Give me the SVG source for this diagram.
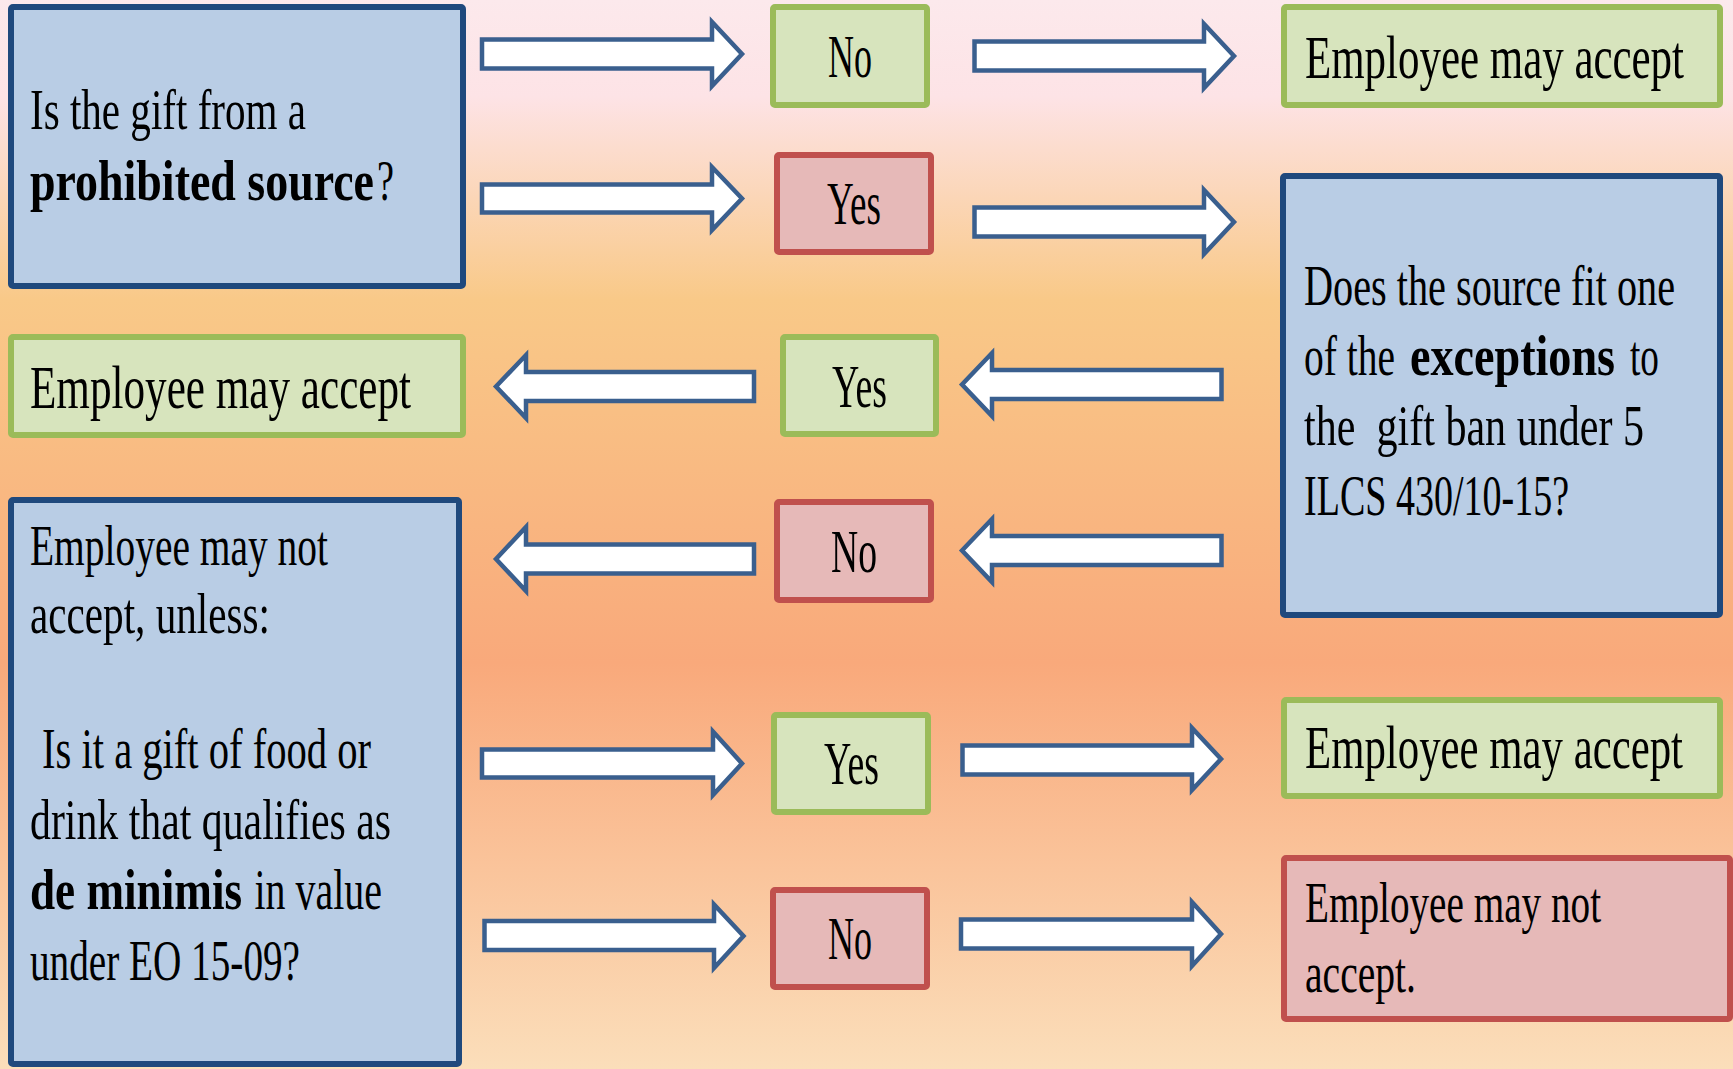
<svg xmlns="http://www.w3.org/2000/svg" width="1733" height="1069" viewBox="0 0 1733 1069">
<defs>
<linearGradient id="bg" x1="0" y1="0" x2="0" y2="1">
<stop offset="0" stop-color="#FCE9EC"/>
<stop offset="0.09" stop-color="#FDE3E6"/>
<stop offset="0.28" stop-color="#F9C988"/>
<stop offset="0.62" stop-color="#F9A97B"/>
<stop offset="1" stop-color="#FBDEBA"/>
</linearGradient>
<style>
.q{fill:#B9CDE5;stroke:#1F497D;stroke-width:6}
.g{fill:#D7E4BD;stroke:#9BBB59;stroke-width:6}
.r{fill:#E6B9B8;stroke:#C0504D;stroke-width:6}
.arr{fill:#FFFFFF;stroke:#3A5F8E;stroke-width:4.5;stroke-linejoin:miter}
text{font-family:"Liberation Serif","Times New Roman",serif;fill:#000000}
.b{font-weight:bold}
</style>
</defs>
<rect x="0" y="0" width="1733" height="1069" fill="url(#bg)"/>

<g id="connectors">
<polygon class="arr" points="482,39.5 712,39.5 712,22 742,54 712,86 712,68.5 482,68.5"/>
<polygon class="arr" points="482,184.5 712,184.5 712,167 742,198.5 712,230 712,212.5 482,212.5"/>
<polygon class="arr" points="974.5,41.5 1204,41.5 1204,24 1234,56 1204,88 1204,70.5 974.5,70.5"/>
<polygon class="arr" points="974.5,207.5 1204,207.5 1204,190 1234,222 1204,254 1204,236.5 974.5,236.5"/>
<polygon class="arr" points="496,386.5 526,355 526,372 754,372 754,401 526,401 526,418"/>
<polygon class="arr" points="962,384.5 992,353 992,370 1221.5,370 1221.5,399 992,399 992,416"/>
<polygon class="arr" points="496,559 526,527 526,544.5 754,544.5 754,573.5 526,573.5 526,591"/>
<polygon class="arr" points="962,550.5 992,519 992,536 1221.5,536 1221.5,565 992,565 992,582"/>
<polygon class="arr" points="482,749.5 713,749.5 713,731.5 742,763.5 713,795 713,777.5 482,777.5"/>
<polygon class="arr" points="484.5,921 714,921 714,904.5 743.5,936 714,968 714,950 484.5,950"/>
<polygon class="arr" points="962.5,745.5 1192,745.5 1192,728 1221,759 1192,790 1192,774.5 962.5,774.5"/>
<polygon class="arr" points="961,919.5 1192,919.5 1192,902 1221,934 1192,966 1192,948.5 961,948.5"/>
</g>

<g id="q1">
<rect class="q" x="11" y="7" width="452" height="279" rx="2"/>
<text transform="translate(30,129) scale(0.7,1)" font-size="57" textLength="394.3" lengthAdjust="spacingAndGlyphs">Is the gift from a</text>
<text class="b" transform="translate(30,200) scale(0.7,1)" font-size="57" textLength="491.4" lengthAdjust="spacingAndGlyphs">prohibited source</text>
<text transform="translate(377,200) scale(0.7,1)" font-size="57" textLength="24.3" lengthAdjust="spacingAndGlyphs">?</text>
</g>

<g id="no1">
<rect class="g" x="773" y="7" width="154" height="98" rx="2"/>
<text transform="translate(828,77) scale(0.7,1)" font-size="62" textLength="62.9" lengthAdjust="spacingAndGlyphs">No</text>
</g>

<g id="yes1">
<rect class="r" x="777" y="155" width="154" height="97" rx="2"/>
<text transform="translate(827,224) scale(0.7,1)" font-size="62" textLength="77.1" lengthAdjust="spacingAndGlyphs">Yes</text>
</g>

<g id="accept1">
<rect class="g" x="1284" y="7" width="436" height="98" rx="2"/>
<text transform="translate(1305,78) scale(0.7,1)" font-size="62" textLength="541.4" lengthAdjust="spacingAndGlyphs">Employee may accept</text>
</g>

<g id="q2">
<rect class="q" x="1283" y="176" width="437" height="439" rx="2"/>
<text transform="translate(1304,305) scale(0.7,1)" font-size="56" textLength="530" lengthAdjust="spacingAndGlyphs">Does the source fit one</text>
<text transform="translate(1304,375) scale(0.7,1)" font-size="56" textLength="130" lengthAdjust="spacingAndGlyphs">of the</text>
<text class="b" transform="translate(1410,375) scale(0.7,1)" font-size="56" textLength="292.9" lengthAdjust="spacingAndGlyphs">exceptions</text>
<text transform="translate(1630,375) scale(0.7,1)" font-size="56" textLength="41.4" lengthAdjust="spacingAndGlyphs">to</text>
<text transform="translate(1304,445) scale(0.7,1)" font-size="56" textLength="485.7" lengthAdjust="spacingAndGlyphs" xml:space="preserve">the  gift ban under 5</text>
<text transform="translate(1304,515) scale(0.7,1)" font-size="56" textLength="378.6" lengthAdjust="spacingAndGlyphs">ILCS 430/10-15?</text>
</g>

<g id="accept2">
<rect class="g" x="11" y="337" width="452" height="98" rx="2"/>
<text transform="translate(30,408) scale(0.7,1)" font-size="62" textLength="544.3" lengthAdjust="spacingAndGlyphs">Employee may accept</text>
</g>

<g id="yes2">
<rect class="g" x="783" y="337" width="153" height="97" rx="2"/>
<text transform="translate(832,407) scale(0.7,1)" font-size="62" textLength="78.6" lengthAdjust="spacingAndGlyphs">Yes</text>
</g>

<g id="no2">
<rect class="r" x="777" y="502" width="154" height="98" rx="2"/>
<text transform="translate(831,572) scale(0.7,1)" font-size="62" textLength="65.7" lengthAdjust="spacingAndGlyphs">No</text>
</g>

<g id="q3">
<rect class="q" x="11" y="500" width="448" height="564" rx="2"/>
<text transform="translate(30,565) scale(0.7,1)" font-size="57" textLength="425.7" lengthAdjust="spacingAndGlyphs">Employee may not</text>
<text transform="translate(30,633) scale(0.7,1)" font-size="57" textLength="342.9" lengthAdjust="spacingAndGlyphs">accept, unless:</text>
<text transform="translate(42,768) scale(0.7,1)" font-size="56" textLength="470" lengthAdjust="spacingAndGlyphs">Is it a gift of food or</text>
<text transform="translate(30,839) scale(0.7,1)" font-size="56" textLength="515.7" lengthAdjust="spacingAndGlyphs">drink that qualifies as</text>
<text class="b" transform="translate(30,909) scale(0.7,1)" font-size="56" textLength="302.9" lengthAdjust="spacingAndGlyphs">de minimis</text>
<text transform="translate(254.5,909) scale(0.7,1)" font-size="56" textLength="182.1" lengthAdjust="spacingAndGlyphs">in value</text>
<text transform="translate(30,980) scale(0.7,1)" font-size="56" textLength="385.7" lengthAdjust="spacingAndGlyphs">under EO 15-09?</text>
</g>

<g id="yes3">
<rect class="g" x="774" y="715" width="154" height="97" rx="2"/>
<text transform="translate(824,784) scale(0.7,1)" font-size="62" textLength="78.6" lengthAdjust="spacingAndGlyphs">Yes</text>
</g>

<g id="no3">
<rect class="r" x="773" y="890" width="154" height="97" rx="2"/>
<text transform="translate(828,959) scale(0.7,1)" font-size="62" textLength="62.9" lengthAdjust="spacingAndGlyphs">No</text>
</g>

<g id="accept3">
<rect class="g" x="1284" y="700" width="436" height="96" rx="2"/>
<text transform="translate(1305,768) scale(0.7,1)" font-size="62" textLength="540" lengthAdjust="spacingAndGlyphs">Employee may accept</text>
</g>

<g id="notaccept">
<rect class="r" x="1284" y="858" width="446" height="161" rx="2"/>
<text transform="translate(1305,922) scale(0.7,1)" font-size="57" textLength="422.9" lengthAdjust="spacingAndGlyphs">Employee may not</text>
<text transform="translate(1305,992) scale(0.7,1)" font-size="57" textLength="158.6" lengthAdjust="spacingAndGlyphs">accept.</text>
</g>
</svg>
